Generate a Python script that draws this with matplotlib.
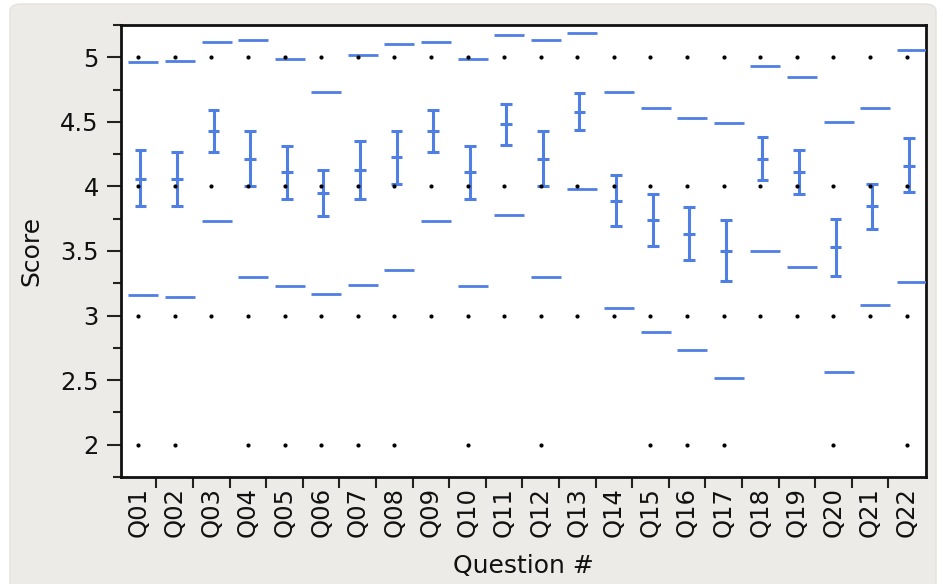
import matplotlib
matplotlib.use("Agg")
import matplotlib.pyplot as plt
from matplotlib.patches import FancyBboxPatch
from matplotlib.ticker import FixedLocator, MultipleLocator

# Question labels
questions = ["Q%02d" % i for i in range(1, 23)]

# Mean score and confidence interval per question
means = [4.06, 4.06, 4.43, 4.21, 4.11, 3.95, 4.13, 4.23, 4.43, 4.11, 4.48,
         4.21, 4.58, 3.89, 3.74, 3.63, 3.50, 4.21, 4.11, 3.53, 3.845, 4.16]
ci_high = [4.28, 4.27, 4.59, 4.43, 4.31, 4.13, 4.35, 4.43, 4.59, 4.31, 4.64,
           4.43, 4.72, 4.09, 3.94, 3.84, 3.74, 4.38, 4.28, 3.75, 4.02, 4.375]
ci_low = [3.845, 3.85, 4.27, 4.00, 3.90, 3.77, 3.90, 4.02, 4.27, 3.90, 4.32,
          4.00, 4.44, 3.69, 3.54, 3.43, 3.27, 4.05, 3.94, 3.31, 3.67, 3.96]

# Mean +/- std dev lines
sd_high = [4.96, 4.97, 5.12, 5.13, 4.985, 4.73, 5.015, 5.105, 5.12, 4.99, 5.175,
           5.13, 5.19, 4.73, 4.61, 4.53, 4.49, 4.93, 4.85, 4.50, 4.61, 5.06]
sd_low = [3.16, 3.145, 3.73, 3.30, 3.23, 3.17, 3.24, 3.35, 3.73, 3.23, 3.78,
          3.30, 3.98, 3.06, 2.87, 2.73, 2.52, 3.50, 3.375, 2.56, 3.08, 3.26]

# Observed score levels per question
score_levels = [5, 4, 3]
has_score_2 = ["Q01", "Q02", "Q04", "Q05", "Q06", "Q07", "Q08", "Q10", "Q12",
               "Q15", "Q16", "Q17", "Q20", "Q22"]

BLUE = "#4f7fe3"
PANEL = "#ecebe7"

fig = plt.figure(figsize=(9.43, 5.84), dpi=100)
fig.patch.set_facecolor("white")
panel = FancyBboxPatch((10 / 943, -0.05), 926 / 943, 1.05 - 4 / 584,
                       boxstyle="round,pad=0,rounding_size=0.012",
                       transform=fig.transFigure, facecolor=PANEL,
                       edgecolor="#e2e1dd", linewidth=1.0, zorder=-10)
fig.patches.append(panel)

ax = fig.add_axes([121 / 943, 1 - 477 / 584, 805 / 943, 452 / 584])
ax.set_facecolor("white")

xs = list(range(len(questions)))

# raw data points
for lvl in score_levels:
    ax.scatter(xs, [lvl] * len(xs), s=9, color="black", zorder=4, linewidths=0)
x2 = [questions.index(q) for q in has_score_2]
ax.scatter(x2, [2] * len(x2), s=9, color="black", zorder=4, linewidths=0)

# confidence intervals
eb_x = [x + 0.06 for x in xs]
ax.vlines(eb_x, ci_low, ci_high, color=BLUE, linewidth=2.2, zorder=3)
for vals in (ci_low, ci_high, means):
    ax.hlines(vals, [x - 0.16 for x in eb_x], [x + 0.16 for x in eb_x],
              color=BLUE, linewidth=2.2, zorder=3)

# std dev lines
for vals in (sd_high, sd_low):
    ax.hlines(vals, [x - 0.27 for x in xs], [x + 0.55 for x in xs],
              color=BLUE, linewidth=2.0, zorder=3)

ax.set_xlim(-0.47, 21.53)
ax.set_ylim(1.75, 5.25)

ax.set_xticks(xs)
ax.set_xticklabels(questions, rotation=90, fontsize=17.5, color="#111111")
ax.tick_params(axis="x", which="major", length=0, pad=7)
ax.xaxis.set_minor_locator(FixedLocator([x + 0.5 for x in xs[:-1]]))
ax.tick_params(axis="x", which="minor", length=8, width=1.5, color="#222222")

ax.yaxis.set_minor_locator(MultipleLocator(0.25))
ax.set_yticks([2, 2.5, 3, 3.5, 4, 4.5, 5])
ax.set_yticklabels(["2", "2.5", "3", "3.5", "4", "4.5", "5"], fontsize=17.5,
                   color="#111111")
ax.tick_params(axis="y", which="major", length=10, width=1.5, color="#222222",
               pad=6)
ax.tick_params(axis="y", which="minor", length=6, width=1.5, color="#222222")

for sp in ax.spines.values():
    sp.set_linewidth(2.0)
    sp.set_color("#111111")

ax.set_xlabel("Question #", fontsize=18, color="#111111", labelpad=12)
ax.set_ylabel("Score", fontsize=18, color="#111111", labelpad=12)

fig.savefig("out.png", dpi=100, facecolor=fig.get_facecolor())
